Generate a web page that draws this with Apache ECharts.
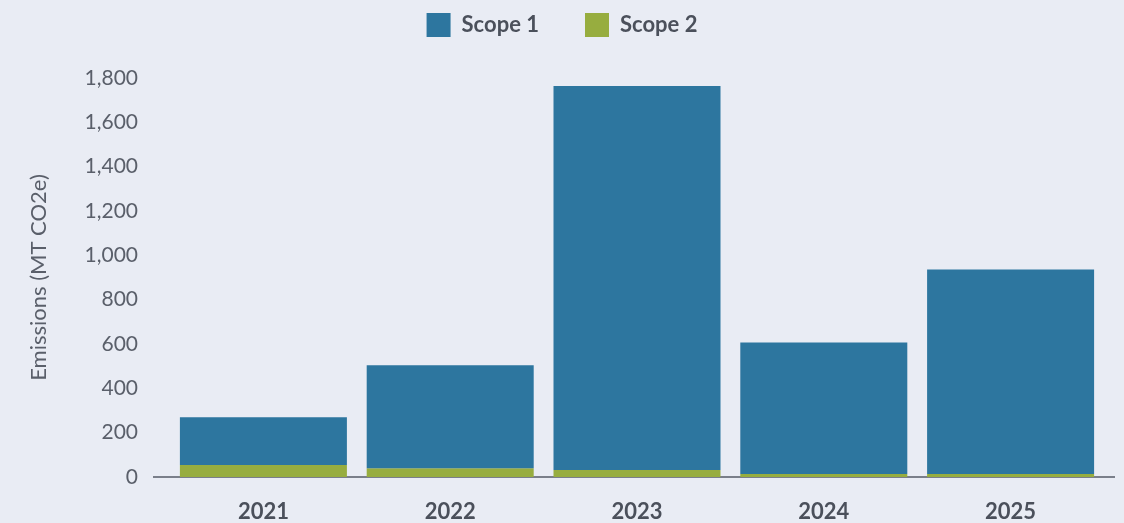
<!DOCTYPE html>
<html>
<head>
<meta charset="utf-8">
<script src="https://cdn.jsdelivr.net/npm/echarts@6/dist/echarts.min.js"></script>
<style>
html,body{margin:0;padding:0;background:#E9ECF4;}
#c{width:1124px;height:523px;}
</style>
</head>
<body>
<div id="c"></div>
<script>
const categories = ['2021', '2022', '2023', '2024', '2025'];
const scope1 = [216, 464, 1732, 593, 922];
const scope2 = [54, 40, 32, 14, 14];
const yTicks = [0, 200, 400, 600, 800, 1000, 1200, 1400, 1600, 1800];

const chart = echarts.init(document.getElementById('c'), null, {renderer: 'canvas'});
const textColor = '#4B505B';
const font = 'Lato, "Open Sans", sans-serif';
chart.setOption({
  backgroundColor: '#E9ECF4',
  animation: false,
  textStyle: {fontFamily: font},
  legend: {
    top: 8,
    left: 'center',
    itemWidth: 24,
    itemHeight: 24,
    itemGap: 46,
    icon: 'rect',
    textStyle: {fontSize: 22, fontWeight: 'bold', color: textColor, fontFamily: font, padding: [0, 0, 0, 6]},
    data: ['Scope 1', 'Scope 2']
  },
  grid: {left: 170, width: 934, top: 78, bottom: 45},
  xAxis: {
    type: 'category',
    data: categories,
    axisLine: {show: false},
    axisTick: {show: false},
    axisLabel: {fontSize: 22, fontWeight: 'bold', color: textColor, margin: 24, fontFamily: font}
  },
  yAxis: {
    type: 'value',
    min: yTicks[0],
    max: yTicks[yTicks.length - 1],
    interval: 200,
    name: 'Emissions (MT CO2e)',
    nameLocation: 'middle',
    nameGap: 120,
    nameTextStyle: {fontSize: 22, color: '#5A5F6A', fontFamily: font},
    splitLine: {show: false},
    axisLine: {show: false},
    axisTick: {show: false},
    axisLabel: {
      fontSize: 21, color: '#5A5F6A', margin: 32, fontFamily: font,
      formatter: v => v.toLocaleString('en-US')
    }
  },
  series: [
    {name: 'Scope 2', type: 'bar', stack: 'total', data: scope2, barWidth: 167,
     itemStyle: {color: '#97AD3F'}},
    {name: 'Scope 1', type: 'bar', stack: 'total', data: scope1, barWidth: 167,
     itemStyle: {color: '#2D769F'}}
  ]
});
// baseline axis line extending slightly past the category band
const y0 = chart.convertToPixel({yAxisIndex: 0}, 0);
chart.setOption({
  graphic: [{
    type: 'line', z: -1,
    shape: {x1: 153, y1: y0, x2: 1115, y2: y0},
    style: {stroke: '#7A7F8A', lineWidth: 2}
  }]
});
</script>
</body>
</html>
